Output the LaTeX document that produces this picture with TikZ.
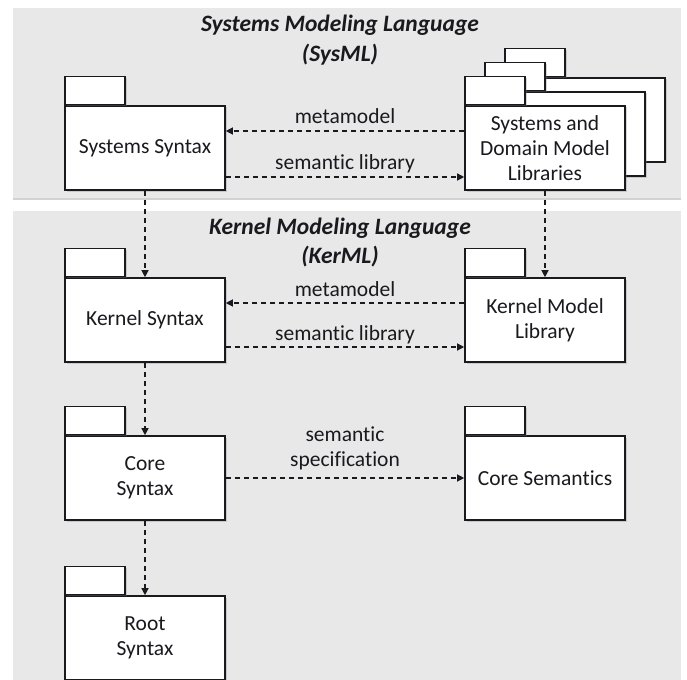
\documentclass[tikz,border=0pt]{standalone}
\usepackage{fontspec}
\setmainfont{Carlito}[Ligatures=NoCommon]
\usetikzlibrary{arrows.meta,shadows,calc}
\definecolor{panelgray}{RGB}{232,232,232}
\definecolor{ink}{RGB}{25,25,30}
\begin{document}
\begin{tikzpicture}[x=1pt,y=-1pt,
  every node/.style={text=ink},
  panel/.style={fill=panelgray, draw=none, inner sep=0pt, anchor=north west,
    drop shadow={shadow xshift=0pt, shadow yshift=-2pt, opacity=0.35}},
  ttl/.style={font=\fontsize{23.5}{28}\selectfont\bfseries\itshape, inner sep=0pt},
  pkg/.style={draw=ink, line width=1.6pt, fill=white, minimum width=160pt,
    minimum height=84pt, inner sep=2pt, align=center,
    font=\fontsize{21.5}{25}\selectfont,
    drop shadow={shadow xshift=1.5pt, shadow yshift=-1.5pt, opacity=0.3}},
  tabst/.style={draw=ink, line width=1.6pt, fill=white, minimum width=60pt,
    minimum height=28pt, inner sep=0pt, anchor=south west,
    drop shadow={shadow xshift=1.5pt, shadow yshift=-1.5pt, opacity=0.3}},
  dep/.style={draw=ink, line width=1.2pt, dash pattern=on 5.5pt off 3.5pt,
    -{Triangle[length=7pt,width=7pt]}},
  lbl/.style={font=\fontsize{21.5}{25}\selectfont, align=center, inner sep=0pt,
    anchor=base, yshift=7pt}
]
\useasboundingbox (0,0) rectangle (687,679);
\fill[white] (0,0) rectangle (687,679);

% panels
\node[panel, minimum width=668pt, minimum height=190pt] (sysml) at (13,8) {};
\node[panel, minimum width=668pt, minimum height=480pt] (kerml) at (13,211) {};

\node[ttl] (sysmlt1) at (340,25) {Systems Modeling Language};
\node[ttl] (sysmlt2) at (340,55) {(SysML)};
\node[ttl] (kermlt1) at (340,228) {Kernel Modeling Language};
\node[ttl] (kermlt2) at (340,257) {(KerML)};

% SysML packages
\node[pkg] (sys) at (145,148) {Systems Syntax};
\node[tabst] (systab) at (sys.north west) {};

\node[pkg] (lib3) at (585,120) {};
\node[tabst] (lib3tab) at (lib3.north west) {};
\node[pkg] (lib2) at (565,134) {};
\node[tabst] (lib2tab) at (lib2.north west) {};
\node[pkg] (lib1) at (545,148) {Systems and\\Domain Model\\Libraries};
\node[tabst] (lib1tab) at (lib1.north west) {};

% KerML packages
\node[pkg] (kern) at (145,320) {Kernel Syntax};
\node[tabst] (kerntab) at (kern.north west) {};
\node[pkg] (kml) at (545,320) {Kernel Model\\Library};
\node[tabst] (kmltab) at (kml.north west) {};
\node[pkg] (core) at (145,478) {Core\\Syntax};
\node[tabst] (coretab) at (core.north west) {};
\node[pkg] (cs) at (545,478) {Core Semantics};
\node[tabst] (cstab) at (cs.north west) {};
\node[pkg] (root) at (145,638) {Root\\Syntax};
\node[tabst] (roottab) at (root.north west) {};

% connectors
\draw[dep] ($(lib1.west)+(0,-17)$) -- node[lbl] (l1) {metamodel} ($(sys.east)+(0,-17)$);
\draw[dep] ($(sys.east)+(0,29)$) -- node[lbl] (l2) {semantic library} ($(lib1.west)+(0,29)$);
\draw[dep] ($(kml.west)+(0,-17)$) -- node[lbl] (l3) {metamodel} ($(kern.east)+(0,-17)$);
\draw[dep] ($(kern.east)+(0,27)$) -- node[lbl] (l4) {semantic library} ($(kml.west)+(0,27)$);
\draw[dep] (core.east) -- node[lbl, anchor=south] (l5) {semantic\\specification} (cs.west);
\draw[dep] (sys.south) -- (kern.north);
\draw[dep] (lib1.south) -- (kml.north);
\draw[dep] (kern.south) -- (core.north);
\draw[dep] (core.south) -- (root.north);
\end{tikzpicture}
\end{document}
